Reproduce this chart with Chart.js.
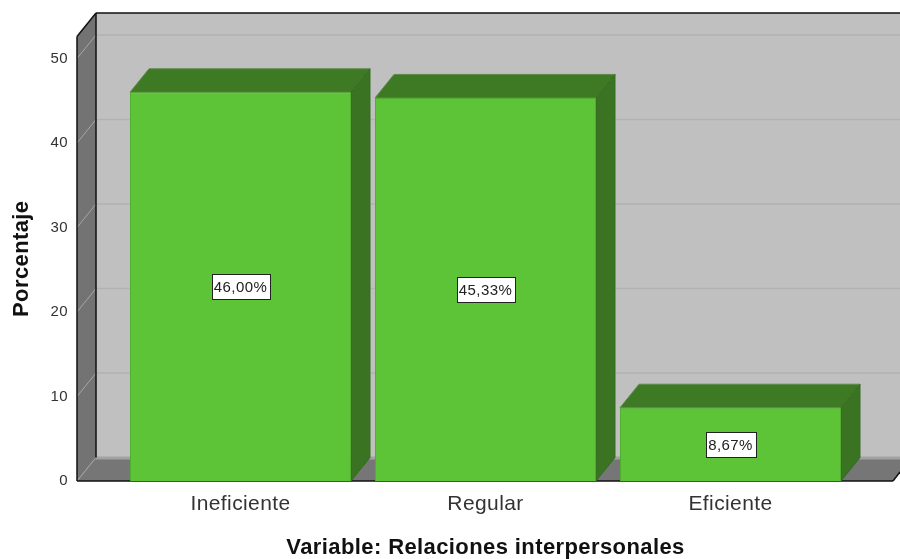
<!DOCTYPE html>
<html>
<head>
<meta charset="utf-8">
<style>
  html, body { margin: 0; padding: 0; background: #fff; }
  #wrap { width: 900px; height: 559px; }
</style>
<script src="https://cdn.jsdelivr.net/npm/chart.js@4"></script>
</head>
<body>
<div id="wrap"><canvas id="myChart" width="900" height="559"></canvas></div>
<script>
const categories = ["Ineficiente", "Regular", "Eficiente"];
const percentages = [46.0, 45.33, 8.67];
const barLabels = ["46,00%", "45,33%", "8,67%"];
const yTicks = [0, 10, 20, 30, 40, 50];
const yTop = 52.6;

const depthX = 19;
const depthY = 23.5;
const fontName = '"Liberation Sans", Arial, sans-serif';

function poly(ctx, pts, fill, stroke) {
  ctx.beginPath();
  pts.forEach((p, i) => (i ? ctx.lineTo(p[0], p[1]) : ctx.moveTo(p[0], p[1])));
  ctx.closePath();
  if (fill) {
    ctx.fillStyle = fill;
    ctx.fill();
  }
  if (stroke) {
    ctx.strokeStyle = stroke;
    ctx.lineWidth = 1;
    ctx.stroke();
  }
}

function line(ctx, x1, y1, x2, y2, color, width) {
  ctx.beginPath();
  ctx.moveTo(x1, y1);
  ctx.lineTo(x2, y2);
  ctx.strokeStyle = color;
  ctx.lineWidth = width;
  ctx.stroke();
}

// the box behind the bars: back wall, left wall and floor
const wallsPlugin = {
  id: "walls",
  beforeDraw(chart) {
    // the original text is spaced a little wider than Liberation Sans
    chart.ctx.letterSpacing = "0.4px";
  },
  beforeDatasetsDraw(chart) {
    const { ctx, scales } = chart;
    const y = scales.y;
    const left = chart.chartArea.left - 41;
    const right = chart.chartArea.right + 40;
    const bottom = y.getPixelForValue(0);
    const top = y.getPixelForValue(yTop);
    const backX = left + depthX;
    ctx.save();
    poly(ctx, [[backX, top - depthY], [900, top - depthY], [900, bottom - depthY], [backX, bottom - depthY]], "#c0c0c0");
    poly(ctx, [[left, top], [backX, top - depthY], [backX, bottom - depthY], [left, bottom]], "#737373");
    poly(ctx, [[left, bottom], [backX, bottom - depthY], [900, bottom - depthY], [900, bottom - 9], [right, bottom]], "#767676");
    line(ctx, backX, bottom - depthY + 0.5, 900, bottom - depthY + 0.5, "#a2a2a2", 3);

    yTicks.forEach((v) => {
      const py = y.getPixelForValue(v);
      line(ctx, left, py, backX, py - depthY, "#a6a6a6", 1);
      if (v > 0) line(ctx, backX, py - depthY, 900, py - depthY, "#b2b2b2", 1.5);
    });

    line(ctx, left, top, left, bottom, "#111", 1.5);
    line(ctx, backX, top - depthY, backX, bottom - depthY, "#111", 1.5);
    line(ctx, left, top, backX, top - depthY, "#111", 1.5);
    line(ctx, backX, top - depthY, 900, top - depthY, "#111", 1.5);
    line(ctx, left, bottom, right, bottom, "#111", 1.5);
    line(ctx, right, bottom, 900, bottom - 9, "#111", 1.5);

    // top and side faces of each bar
    chart.getDatasetMeta(0).data.forEach((bar) => {
      const x1 = bar.x - bar.width / 2;
      const x2 = bar.x + bar.width / 2;
      const yt = bar.y;
      const yb = bar.base;
      poly(ctx, [[x1, yt], [x1 + depthX, yt - depthY], [x2 + depthX, yt - depthY], [x2, yt]], "#3e7a24", "#5f8a4c");
      poly(ctx, [[x2, yt], [x2 + depthX, yt - depthY], [x2 + depthX, yb - depthY], [x2, yb]], "#3a7423", "#356b20");
    });
    ctx.restore();
  },
  afterDatasetsDraw(chart) {
    const { ctx } = chart;
    ctx.save();
    ctx.font = "15px " + fontName;
    ctx.textAlign = "center";
    ctx.textBaseline = "middle";
    chart.getDatasetMeta(0).data.forEach((bar, i) => {
      const cy = (bar.y + bar.base) / 2;
      const w = Math.round(ctx.measureText(barLabels[i]).width) + 5;
      const bx = Math.round(bar.x - w / 2) + 0.5;
      const by = Math.round(cy - 12.5) + 0.5;
      ctx.fillStyle = "#fff";
      ctx.fillRect(bx, by, w, 25);
      ctx.strokeStyle = "#222";
      ctx.lineWidth = 1;
      ctx.strokeRect(bx, by, w, 25);
      ctx.fillStyle = "#222";
      ctx.fillText(barLabels[i], bar.x, cy + 1);
    });
    ctx.restore();
  },
};

const ctx = document.getElementById("myChart").getContext("2d");
new Chart(ctx, {
  type: "bar",
  data: {
    labels: categories,
    datasets: [
      {
        label: "Porcentaje",
        data: percentages,
        backgroundColor: "#5dc337",
        borderColor: "#54ad33",
        borderWidth: 1,
        barPercentage: 0.902,
        categoryPercentage: 1,
      },
    ],
  },
  options: {
    responsive: false,
    animation: false,
    layout: { padding: { top: 36.5, right: 47 } },
    plugins: { legend: { display: false }, tooltip: { enabled: false } },
    scales: {
      x: {
        grid: { display: false },
        border: { display: false },
        afterFit: (scale) => {
          scale.height = 78;
        },
        ticks: {
          color: "#333",
          padding: 3,
          maxRotation: 0,
          font: { family: fontName, size: 21 },
        },
        title: {
          display: true,
          text: "Variable: Relaciones interpersonales",
          color: "#111",
          padding: { top: 13, bottom: -2 },
          font: { family: fontName, size: 22, weight: "bold" },
        },
      },
      y: {
        min: 0,
        max: yTop,
        // keep the scale ends exact, otherwise 0 to 50 does not fill the wall
        bounds: "data",
        grid: { display: false },
        border: { display: false },
        afterFit: (scale) => {
          scale.width = 118;
          scale.paddingTop = 0;
          scale.paddingBottom = 0;
        },
        afterTickToLabelConversion: (scale) => {
          // drop the extra tick at the top of the wall
          scale.ticks = scale.ticks.filter((t) => yTicks.includes(t.value));
        },
        ticks: {
          color: "#333",
          padding: 42,
          stepSize: 10,
          font: { family: fontName, size: 15 },
        },
        title: {
          display: true,
          text: "Porcentaje",
          color: "#111",
          padding: { top: 9, bottom: 0 },
          font: { family: fontName, size: 22, weight: "bold" },
        },
      },
    },
  },
  plugins: [wallsPlugin],
});
</script>
</body>
</html>
